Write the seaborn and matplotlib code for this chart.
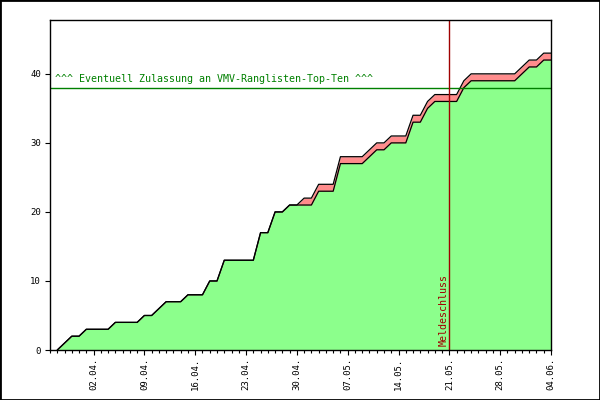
import pandas as pd
import numpy as np
import seaborn as sns
import matplotlib.pyplot as plt
import matplotlib.dates as mdates
from matplotlib.patches import Rectangle

# tage ab 28.03.
tage = pd.date_range("2008-03-28", "2008-06-04", freq="D")

# bestaetigte meldungen (gruen)
bestaetigt = [0, 1, 2, 2, 3, 3, 3, 3, 4, 4,
              4, 4, 5, 5, 6, 7, 7, 7, 8, 8,
              8, 10, 10, 13, 13, 13, 13, 13, 17, 17,
              20, 20, 21, 21, 21, 21, 23, 23, 23, 27,
              27, 27, 27, 28, 29, 29, 30, 30, 30, 33,
              33, 35, 36, 36, 36, 36, 38, 39, 39, 39,
              39, 39, 39, 39, 40, 41, 41, 42, 42]

# alle meldungen inkl. offene (rot)
gesamt = [0, 1, 2, 2, 3, 3, 3, 3, 4, 4,
          4, 4, 5, 5, 6, 7, 7, 7, 8, 8,
          8, 10, 10, 13, 13, 13, 13, 13, 17, 17,
          20, 20, 21, 21, 22, 22, 24, 24, 24, 28,
          28, 28, 28, 29, 30, 30, 31, 31, 31, 34,
          34, 36, 37, 37, 37, 37, 39, 40, 40, 40,
          40, 40, 40, 40, 41, 42, 42, 43, 43]

grenze = 38
meldeschluss = pd.Timestamp("2008-05-21")
grenze_text = "^^^ Eventuell Zulassung an VMV-Ranglisten-Top-Ten ^^^"

df = pd.DataFrame({"tag": tage, "bestaetigt": bestaetigt, "gesamt": gesamt})

sns.set_style("ticks")
plt.rcParams['font.family'] = ['DejaVu Sans Mono']

fig = plt.figure(figsize=(6, 4), dpi=100)
ax = fig.add_axes([50/600, 50/400, 501/600, 330/400])

ax.fill_between(df["tag"], 0, df["gesamt"], color="#ff8c8c", lw=0)
ax.fill_between(df["tag"], 0, df["bestaetigt"], color="#8cff8c", lw=0)
sns.lineplot(data=df, x="tag", y="gesamt", color="black", lw=0.9, ax=ax)
sns.lineplot(data=df, x="tag", y="bestaetigt", color="black", lw=0.9, ax=ax)

ax.axhline(grenze, color="#008000", lw=1)
ax.text(pd.Timestamp("2008-03-27 18:00"), grenze + 0.6, grenze_text,
        color="#008000", fontsize=7.2, ha="left", va="bottom")

ax.axvline(meldeschluss, color="#a00000", lw=1)
ax.text(meldeschluss - pd.Timedelta(hours=3), 0.6, "Meldeschluss", color="#a00000",
        fontsize=7.2, rotation=90, ha="right", va="bottom")

ax.set_xlim(pd.Timestamp("2008-03-27"), pd.Timestamp("2008-06-04"))
ax.set_ylim(0, 47.8)
ax.set_yticks([0, 10, 20, 30, 40])
ax.set_xticks(pd.date_range("2008-04-02", "2008-06-04", freq="7D"))
ax.xaxis.set_minor_locator(mdates.DayLocator())
ax.xaxis.set_major_formatter(mdates.DateFormatter("%d.%m."))
ax.tick_params(axis="x", which="major", rotation=90, length=3.6, width=0.8,
               labelsize=6.5, pad=2, color="black", labelcolor="black")
ax.tick_params(axis="x", which="minor", length=2.2, width=0.8, color="black")
ax.tick_params(axis="y", length=3.6, width=0.8, labelsize=6.5, pad=3,
               color="black", labelcolor="black")
ax.set_xlabel("")
ax.set_ylabel("")
for s in ax.spines.values():
    s.set_color("black")
    s.set_linewidth(1)

fig.patches.append(Rectangle((0, 0), 1, 1, transform=fig.transFigure, fill=False,
                             edgecolor="black", lw=2))

fig.savefig("out.png", dpi=100)
